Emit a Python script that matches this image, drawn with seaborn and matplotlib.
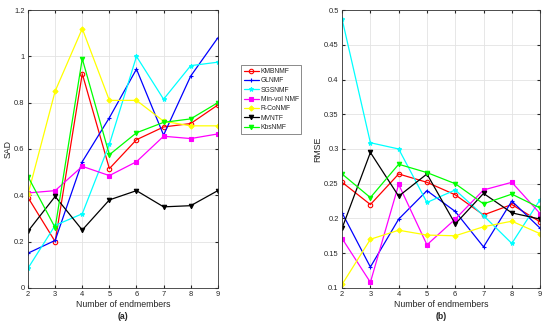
import numpy as np
import pandas as pd
import matplotlib
matplotlib.use("Agg")
import matplotlib.pyplot as plt
import seaborn as sns

endmembers = [2, 3, 4, 5, 6, 7, 8, 9]
methods = ["KMBNMF", "GLNMF", "SGSNMF", "Min-vol NMF", "R-CoNMF", "MVNTF", "KbsNMF"]

sad_kmbnmf = [0.39, 0.20, 0.925, 0.515, 0.64, 0.695, 0.71, 0.79]
sad_glnmf = [0.15, 0.205, 0.545, 0.735, 0.945, 0.66, 0.915, 1.08]
sad_sgsnmf = [0.085, 0.27, 0.32, 0.62, 1.0, 0.815, 0.96, 0.975]
sad_minvol = [0.41, 0.42, 0.525, 0.485, 0.545, 0.655, 0.645, 0.665]
sad_rconmf = [0.405, 0.85, 1.12, 0.81, 0.81, 0.72, 0.70, 0.70]
sad_mvntf = [0.245, 0.395, 0.25, 0.38, 0.42, 0.35, 0.355, 0.42]
sad_kbsnmf = [0.48, 0.26, 0.99, 0.575, 0.67, 0.715, 0.73, 0.80]

rmse_kmbnmf = [0.252, 0.22, 0.264, 0.252, 0.234, 0.205, 0.22, 0.195]
rmse_glnmf = [0.208, 0.13, 0.199, 0.24, 0.21, 0.159, 0.225, 0.186]
rmse_sgsnmf = [0.487, 0.309, 0.30, 0.223, 0.241, 0.204, 0.164, 0.227]
rmse_minvol = [0.171, 0.108, 0.249, 0.162, 0.199, 0.241, 0.252, 0.207]
rmse_rconmf = [0.105, 0.17, 0.183, 0.176, 0.175, 0.188, 0.196, 0.178]
rmse_mvntf = [0.186, 0.295, 0.232, 0.264, 0.192, 0.236, 0.208, 0.199]
rmse_kbsnmf = [0.264, 0.23, 0.278, 0.266, 0.25, 0.221, 0.235, 0.215]

sad_values = [sad_kmbnmf, sad_glnmf, sad_sgsnmf, sad_minvol, sad_rconmf, sad_mvntf, sad_kbsnmf]
rmse_values = [rmse_kmbnmf, rmse_glnmf, rmse_sgsnmf, rmse_minvol, rmse_rconmf, rmse_mvntf, rmse_kbsnmf]

sad_ticks = [0, 0.2, 0.4, 0.6, 0.8, 1, 1.2]
rmse_ticks = [0.1, 0.15, 0.2, 0.25, 0.3, 0.35, 0.4, 0.45, 0.5]

palette = {"KMBNMF": "#ff0000", "GLNMF": "#0000ff", "SGSNMF": "#00ffff",
           "Min-vol NMF": "#ff00ff", "R-CoNMF": "#ffff00", "MVNTF": "#000000",
           "KbsNMF": "#00ff00"}
markers = {"KMBNMF": "o", "GLNMF": "+", "SGSNMF": "*", "Min-vol NMF": "s",
           "R-CoNMF": "D", "MVNTF": "v", "KbsNMF": "v"}
filled = {"KMBNMF": False, "GLNMF": True, "SGSNMF": True, "Min-vol NMF": True,
          "R-CoNMF": True, "MVNTF": True, "KbsNMF": True}

sns.set_style("whitegrid")
plt.rcParams["font.family"] = ["Liberation Sans", "DejaVu Sans"]
plt.rcParams["font.size"] = 6

fig = plt.figure(figsize=(5.5, 3.26), dpi=100)
ax1 = fig.add_axes([0.051, 0.117, 0.345, 0.852])
ax2 = fig.add_axes([0.622, 0.117, 0.36, 0.852])


def draw(ax, values, col, ticks, ylim, tag):
    for m, vals in zip(methods, values):
        df = pd.DataFrame({"Endmembers": endmembers, col: vals})
        c = palette[m]
        sns.lineplot(data=df, x="Endmembers", y=col, color=c, marker=markers[m],
                     markersize=3.2 if markers[m] != "D" else 2.6,
                     markeredgewidth=0.8, markeredgecolor=c,
                     markerfacecolor=c if filled[m] else "none",
                     linewidth=0.9, label=m, ax=ax, legend=False)
    ax.set_xlim(2, 9)
    ax.set_ylim(*ylim)
    ax.set_xticks(endmembers)
    ax.set_yticks(ticks)
    ax.set_yticklabels([f"{t:g}" for t in ticks])
    ax.set_xlabel("Number of endmembers", fontsize=6.3, labelpad=1.5)
    ax.set_ylabel(col, fontsize=6.3, labelpad=1)
    ax.text(0.5, -0.104, tag, transform=ax.transAxes, ha="center", va="center",
            fontsize=6.3, fontweight="bold")
    ax.grid(True, color="#e3e3e3", linewidth=0.6)
    ax.tick_params(direction="in", length=2, labelsize=5.4, pad=2.5,
                   top=True, right=True, bottom=True, left=True)
    for s in ax.spines.values():
        s.set_color("#333333")
        s.set_linewidth(0.6)


draw(ax1, sad_values, "SAD", sad_ticks, (0, 1.2), "(a)")
draw(ax2, rmse_values, "RMSE", rmse_ticks, (0.1, 0.5), "(b)")

handles, labels = ax1.get_legend_handles_labels()
leg = fig.legend(handles, labels, loc="upper left", bbox_to_anchor=(0.438, 0.80),
                 fontsize=4.9, frameon=True, fancybox=False, borderpad=0.4,
                 labelspacing=0.35, handlelength=2.2, handletextpad=0.3,
                 borderaxespad=0)
leg.get_frame().set_edgecolor("#555555")
leg.get_frame().set_linewidth(0.6)

fig.savefig("out.png", dpi=100)
